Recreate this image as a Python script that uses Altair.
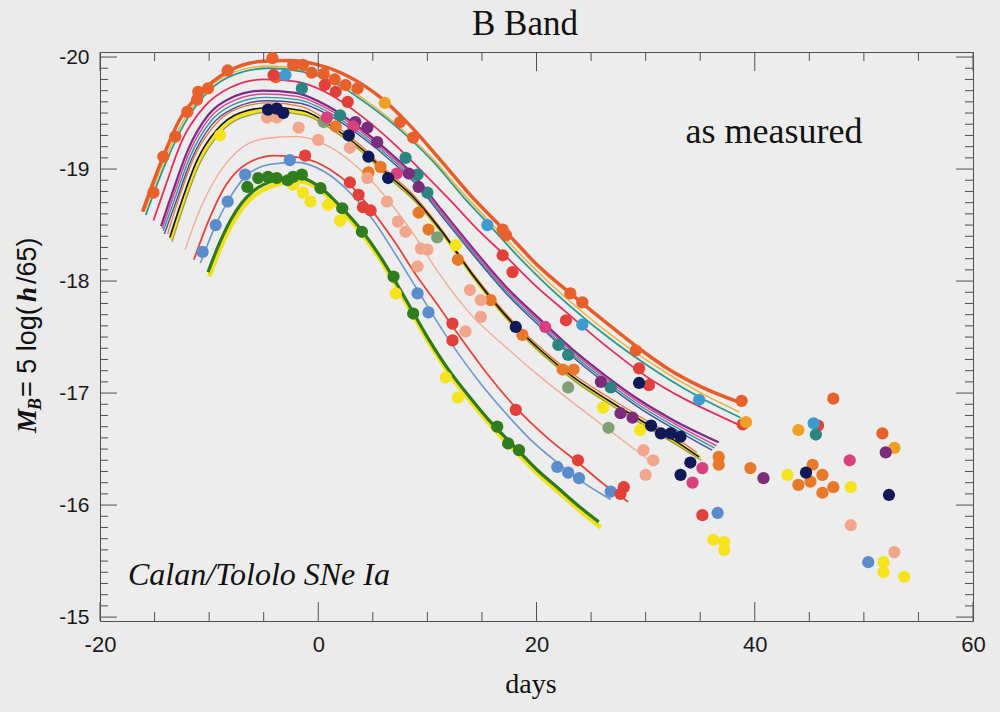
import altair as alt
import pandas as pd

# ---------------- text ----------------
title_text = "B Band"
note_text = "as measured"
sample_text = "Calan/Tololo SNe Ia"
xlabel_text = "days"
ytitle_parts = ["M", "B", "= 5 log(", "h", "/65)"]

# ---------------- axis ticks ----------------
x_major = [-20, 0, 20, 40, 60]
x_minor = [-15, -10, -5, 5, 10, 15, 25, 30, 35, 45, 50, 55]
y_major = [-20, -19, -18, -17, -16, -15]
y_minor = [round(-20 + 0.1 * i, 1) for i in range(51) if i % 10 != 0]

# ---------------- template curves (day, M_B) ----------------
orange_days = [-16.1, -14.5, -12.7, -10.8, -8.1, -5.3, -2.6, 0.0, 2.9, 5.7, 8.4, 11.2, 14.2, 17.2, 20.0, 23.6, 26.5, 29.1, 32.0, 35.0, 38.8]
orange_mags = [-18.62, -19.04, -19.44, -19.68, -19.88, -19.96, -19.97, -19.93, -19.82, -19.64, -19.39, -19.08, -18.74, -18.44, -18.15, -17.85, -17.62, -17.42, -17.22, -17.06, -16.91]

teal_days = [-15.8, -14.0, -12.0, -10.0, -7.5, -4.5, -1.5, 1.5, 4.5, 7.5, 10.5, 13.3, 15.5, 18.5, 21.0, 23.4, 26.0, 28.9, 32.0, 35.0, 38.7]
teal_mags = [-18.59, -19.05, -19.45, -19.70, -19.85, -19.90, -19.87, -19.77, -19.58, -19.35, -19.07, -18.75, -18.52, -18.20, -17.96, -17.75, -17.54, -17.33, -17.13, -16.96, -16.78]

gold_days = [-15.9, -14.1, -12.1, -10.1, -7.6, -4.6, -1.6, 1.4, 4.4, 7.4, 10.4, 13.2, 15.4, 18.4, 20.9, 23.3, 25.9, 28.8, 31.9, 34.9, 38.6]
gold_mags = [-18.62, -19.08, -19.47, -19.72, -19.87, -19.92, -19.89, -19.80, -19.61, -19.38, -19.10, -18.79, -18.56, -18.25, -18.01, -17.80, -17.59, -17.38, -17.18, -17.01, -16.83]

pink_days = [-15.1, -14.0, -12.5, -10.5, -8.0, -5.0, -2.0, 1.0, 4.0, 7.0, 9.5, 12.1, 14.5, 17.3, 20.0, 22.5, 26.5, 30.2, 33.5, 36.9, 38.9]
pink_mags = [-18.54, -18.85, -19.25, -19.55, -19.73, -19.80, -19.78, -19.67, -19.47, -19.22, -18.98, -18.72, -18.47, -18.21, -17.95, -17.74, -17.41, -17.14, -16.95, -16.79, -16.70]

magenta_days = [-14.3, -13.3, -11.8, -10.0, -8.0, -5.0, -2.0, 1.0, 4.0, 6.5, 9.0, 11.2, 14.2, 17.3, 20.4, 23.4, 26.5, 29.5, 32.6, 36.5]
magenta_mags = [-18.47, -18.75, -19.15, -19.45, -19.60, -19.67, -19.65, -19.53, -19.33, -19.13, -18.90, -18.63, -18.27, -17.92, -17.63, -17.36, -17.12, -16.91, -16.73, -16.53]

purple_days = [-14.4, -13.4, -11.9, -10.1, -8.1, -5.1, -2.1, 0.9, 3.9, 6.4, 8.9, 11.1, 14.1, 17.2, 20.3, 23.3, 26.4, 29.4, 32.5, 36.7]
purple_mags = [-18.49, -18.78, -19.18, -19.48, -19.63, -19.70, -19.68, -19.56, -19.36, -19.16, -18.93, -18.66, -18.30, -17.95, -17.66, -17.39, -17.15, -16.94, -16.76, -16.56]

teal2_days = [-14.2, -13.2, -11.7, -9.9, -7.9, -4.9, -1.9, 1.1, 4.1, 6.6, 9.1, 11.3, 14.3, 17.4, 20.5, 23.5, 26.6, 29.6, 32.7, 36.3]
teal2_mags = [-18.45, -18.72, -19.12, -19.42, -19.57, -19.64, -19.62, -19.50, -19.30, -19.10, -18.87, -18.60, -18.24, -17.89, -17.60, -17.33, -17.09, -16.88, -16.70, -16.51]

violet_days = [-14.1, -13.1, -11.6, -9.8, -7.8, -4.8, -1.8, 1.2, 4.2, 6.7, 9.2, 11.4, 14.4, 17.5, 20.6, 23.6, 26.7, 29.7, 32.8, 36.1]
violet_mags = [-18.42, -18.69, -19.09, -19.39, -19.54, -19.61, -19.59, -19.47, -19.27, -19.07, -18.84, -18.57, -18.21, -17.86, -17.57, -17.30, -17.06, -16.85, -16.67, -16.49]

othin_days = [-13.8, -12.9, -11.3, -9.5, -7.4, -4.6, -1.6, 0.9, 3.9, 6.1, 8.5, 11.0, 14.0, 17.1, 20.2, 23.2, 26.3, 29.3, 32.4, 34.7]
othin_mags = [-18.42, -18.70, -19.12, -19.39, -19.54, -19.59, -19.56, -19.43, -19.21, -19.00, -18.79, -18.50, -18.09, -17.72, -17.42, -17.18, -16.98, -16.80, -16.62, -16.47]

ybund_days = [-13.5, -12.6, -11.0, -9.2, -7.1, -4.3, -1.3, 1.2, 4.2, 6.4, 8.8, 11.3, 14.3, 17.4, 20.5, 23.5, 26.6, 29.6, 32.7, 35.0]
ybund_mags = [-18.37, -18.64, -19.06, -19.33, -19.48, -19.53, -19.50, -19.37, -19.15, -18.94, -18.73, -18.44, -18.03, -17.66, -17.36, -17.12, -16.92, -16.74, -16.56, -16.42]

olive_days = [-13.4, -12.5, -10.9, -9.1, -7.0, -4.2, -1.2, 1.3, 4.3, 6.5, 8.9, 11.4, 14.4, 17.5, 20.6, 23.6, 26.7, 29.7, 32.8, 35.1]
olive_mags = [-18.35, -18.62, -19.04, -19.31, -19.46, -19.51, -19.48, -19.35, -19.13, -18.92, -18.71, -18.42, -18.01, -17.64, -17.34, -17.10, -16.90, -16.72, -16.54, -16.40]

black_days = [-13.6, -12.7, -11.1, -9.3, -7.2, -4.4, -1.4, 1.1, 4.1, 6.3, 8.7, 11.2, 14.2, 17.3, 20.4, 23.4, 26.5, 29.5, 32.6, 34.9]
black_mags = [-18.39, -18.66, -19.08, -19.35, -19.50, -19.55, -19.52, -19.39, -19.17, -18.96, -18.75, -18.46, -18.05, -17.68, -17.38, -17.14, -16.94, -16.76, -16.58, -16.43]

salmon_days = [-12.2, -11.0, -9.5, -7.5, -5.0, -2.0, 1.0, 4.0, 7.0, 9.0, 11.2, 14.0, 17.3, 20.4, 23.4, 26.5, 29.5, 30.6]
salmon_mags = [-18.28, -18.60, -18.90, -19.15, -19.27, -19.29, -19.20, -18.98, -18.65, -18.38, -18.05, -17.70, -17.40, -17.14, -16.91, -16.68, -16.46, -16.38]

red_days = [-11.4, -10.0, -8.5, -6.5, -4.0, -1.5, 1.0, 3.0, 5.0, 7.0, 9.0, 11.0, 13.0, 15.5, 18.1, 21.0, 23.8, 26.0, 28.4]
red_mags = [-18.19, -18.55, -18.85, -19.05, -19.12, -19.10, -19.00, -18.85, -18.62, -18.35, -18.05, -17.78, -17.50, -17.17, -16.87, -16.60, -16.38, -16.20, -16.03]

blue_days = [-10.8, -9.4, -8.3, -6.7, -4.5, -2.0, 0.5, 3.0, 5.0, 7.0, 9.1, 11.0, 13.0, 15.0, 17.0, 19.5, 21.9, 24.0, 26.8]
blue_mags = [-18.16, -18.50, -18.71, -18.93, -19.04, -19.06, -18.98, -18.78, -18.55, -18.25, -17.92, -17.62, -17.33, -17.07, -16.84, -16.58, -16.38, -16.22, -16.05]

yellow_days = [-10.0, -8.9, -7.9, -6.9, -5.9, -3.9, -1.9, 0.1, 2.1, 4.1, 6.1, 8.1, 10.1, 12.1, 14.1, 16.1, 18.1, 20.1, 22.1, 24.1, 25.9]
yellow_mags = [-18.04, -18.31, -18.51, -18.66, -18.76, -18.86, -18.89, -18.82, -18.63, -18.41, -18.13, -17.80, -17.46, -17.16, -16.91, -16.68, -16.48, -16.28, -16.11, -15.94, -15.80]

green_days = [-10.1, -9.0, -8.0, -7.0, -6.0, -4.0, -2.0, 0.0, 2.0, 4.0, 6.0, 8.0, 10.0, 12.0, 14.0, 16.0, 18.0, 20.0, 22.0, 24.0, 25.7]
green_mags = [-18.08, -18.35, -18.55, -18.70, -18.80, -18.90, -18.93, -18.85, -18.67, -18.45, -18.17, -17.84, -17.50, -17.20, -16.95, -16.72, -16.52, -16.32, -16.15, -15.98, -15.85]

# ---------------- measured points (day, M_B) ----------------
p_orange_d = [-15.1, -14.2, -13.1, -12.0, -11.1, -11.0, -10.1, -8.3, -4.2, -3.9, -2.3, -1.4, -0.6, 0.5, 1.5, 2.5, 3.6, 7.5, 8.7, 16.9, 17.2, 23.1, 24.2, 29.1, 38.8, 47.2, 51.7]
p_orange_m = [-18.79, -19.11, -19.29, -19.51, -19.62, -19.69, -19.72, -19.88, -19.99, -19.82, -19.93, -19.93, -19.86, -19.85, -19.80, -19.75, -19.72, -19.42, -19.28, -18.46, -18.41, -17.89, -17.81, -17.38, -16.93, -16.95, -16.64]
p_red_d = [-4.1, 0.6, 1.6, 2.7, 16.9, 17.8, 22.7, 29.4, 30.3, 38.9, -1.2, 2.9, 3.7, 4.1, 4.8, 12.3, 12.3, 18.1, 23.8, 27.7, 28.0, 35.2, 45.8]
p_red_m = [-19.84, -19.75, -19.69, -19.60, -18.23, -18.08, -17.65, -17.22, -17.07, -16.72, -19.12, -18.88, -18.77, -18.66, -18.63, -17.62, -17.47, -16.85, -16.40, -16.10, -16.16, -15.91, -16.71]
p_navy_d = [-4.6, -3.8, -3.2, 2.8, 4.6, 6.4, 18.1, 29.4, 30.5, 31.4, 32.3, 33.2, 34.1, 33.2, 44.7, 52.3]
p_navy_m = [-19.53, -19.54, -19.50, -19.30, -19.11, -18.92, -17.59, -17.09, -16.71, -16.64, -16.64, -16.61, -16.38, -16.27, -16.29, -16.09]
p_magenta_d = [0.8, 3.2, 7.2, 20.8, 35.2, 34.3, 48.7]
p_magenta_m = [-19.46, -19.38, -18.96, -17.59, -16.33, -16.20, -16.40]
p_purple_d = [3.4, 4.5, 5.4, 8.3, 9.2, 25.9, 27.7, 28.8, 40.8, 52.0]
p_purple_m = [-19.42, -19.37, -19.24, -18.96, -18.84, -17.10, -16.82, -16.78, -16.24, -16.47]
p_teal_d = [-1.5, 2.0, 8.0, 9.1, 10.0, 22.0, 22.9, 26.8, 45.6]
p_teal_m = [-19.72, -19.48, -19.10, -18.95, -18.79, -17.43, -17.34, -17.05, -16.63]
p_sky_d = [-3.0, 15.5, 24.2, 34.9, 45.4]
p_sky_m = [-19.84, -18.50, -17.61, -16.94, -16.73]
p_amber_d = [6.1, 39.2, 44.0, 52.8]
p_amber_m = [-19.59, -16.74, -16.67, -16.51]
p_yellow_d = [-9.0, -2.3, -1.4, -0.7, 0.9, 2.0, 7.1, 11.7, 12.8, 12.6, 26.1, 29.5, 43.0, 48.8, 36.2, 37.2, 37.2, 51.8, 51.8, 53.7]
p_yellow_m = [-19.30, -18.86, -18.79, -18.71, -18.68, -18.54, -17.89, -17.14, -16.96, -18.32, -16.87, -16.67, -16.27, -16.16, -15.69, -15.67, -15.60, -15.49, -15.40, -15.36]
p_green_d = [-6.5, -5.5, -4.6, -3.8, -2.8, -2.3, -1.5, 0.2, 2.2, 4.0, 6.9, 8.7, 16.4, 17.4, 18.4]
p_green_m = [-18.84, -18.92, -18.93, -18.92, -18.90, -18.93, -18.95, -18.83, -18.65, -18.44, -18.04, -17.71, -16.70, -16.55, -16.49]
p_salmon_d = [-4.7, -3.8, -1.8, 0.0, 2.9, 4.5, 6.3, 7.3, 8.0, 9.4, 10.0, 9.1, 13.5, 13.9, 14.9, 14.9, 29.8, 30.7, 30.0, 48.8, 52.8]
p_salmon_m = [-19.46, -19.46, -19.37, -19.26, -19.19, -18.92, -18.71, -18.53, -18.44, -18.29, -18.28, -18.13, -17.55, -17.92, -17.83, -17.68, -16.49, -16.40, -16.27, -15.82, -15.58]
p_sage_d = [0.5, 10.9, 22.9, 26.6]
p_sage_m = [-19.42, -18.39, -17.05, -16.69]
p_orange2_d = [1.6, 4.6, 5.7, 9.2, 10.1, 12.8, 15.8, 18.7, 22.4, 23.4, 36.7, 36.7, 39.6, 45.3, 46.2, 47.2, 46.2, 45.1, 44.0]
p_orange2_m = [-19.38, -18.97, -19.02, -18.61, -18.46, -18.19, -17.83, -17.52, -17.21, -17.21, -16.43, -16.36, -16.33, -16.36, -16.27, -16.16, -16.11, -16.21, -16.18]
p_blue_d = [-10.6, -9.4, -8.3, -6.7, -2.6, 9.1, 10.1, 21.9, 22.9, 23.9, 26.8, 36.6, 50.4]
p_blue_m = [-18.26, -18.50, -18.71, -18.95, -19.08, -17.89, -17.72, -16.34, -16.29, -16.24, -16.12, -15.93, -15.49]

# ---------------- styles ----------------
line_styles = [  # name, days, mags, colour, width (drawing order)
    ("salmon", salmon_days, salmon_mags, "#f3ad95", 1.4),
    ("blue", blue_days, blue_mags, "#6a96d2", 1.6),
    ("red", red_days, red_mags, "#e4443a", 1.8),
    ("yellow", yellow_days, yellow_mags, "#f2e21e", 4.5),
    ("green", green_days, green_mags, "#2f7a1c", 3.2),
    ("ybund", ybund_days, ybund_mags, "#f2e21e", 4.0),
    ("olive", olive_days, olive_mags, "#9a9a4a", 1.3),
    ("othin", othin_days, othin_mags, "#e87a30", 1.3),
    ("black", black_days, black_mags, "#111111", 1.6),
    ("violet", violet_days, violet_mags, "#4a4aa0", 1.4),
    ("teal2", teal2_days, teal2_mags, "#2a9a9a", 1.4),
    ("purple", purple_days, purple_mags, "#7d2a88", 2.2),
    ("magenta", magenta_days, magenta_mags, "#e0428f", 1.5),
    ("pink", pink_days, pink_mags, "#e2305e", 1.8),
    ("teal", teal_days, teal_mags, "#2a9a8c", 1.8),
    ("gold", gold_days, gold_mags, "#f0b030", 1.4),
    ("orange", orange_days, orange_mags, "#e85c2a", 3.5),
]

point_styles = [
    ("orange", p_orange_d, p_orange_m, "#e8602c"),
    ("orange2", p_orange2_d, p_orange2_m, "#e8782a"),
    ("salmon", p_salmon_d, p_salmon_m, "#f2a68c"),
    ("sage", p_sage_d, p_sage_m, "#809f74"),
    ("yellow", p_yellow_d, p_yellow_m, "#f5e31e"),
    ("green", p_green_d, p_green_m, "#2f7d1e"),
    ("blue", p_blue_d, p_blue_m, "#5b8dcc"),
    ("red", p_red_d, p_red_m, "#e2413a"),
    ("amber", p_amber_d, p_amber_m, "#f0a024"),
    ("sky", p_sky_d, p_sky_m, "#3d9bd0"),
    ("teal", p_teal_d, p_teal_m, "#2b8581"),
    ("purple", p_purple_d, p_purple_m, "#7b2d7b"),
    ("magenta", p_magenta_d, p_magenta_m, "#d9407e"),
    ("navy", p_navy_d, p_navy_m, "#101858"),
]

W, H = 873, 569
xs = alt.Scale(domain=[-20, 60], nice=False, zero=False)
ys = alt.Scale(domain=[-20.045, -14.965], reverse=True, nice=False, zero=False)
xaxis = alt.Axis(values=x_major, title=None, labelExpr="'' + datum.value", labelPadding=13,
                 labelFontSize=22, ticks=False, domain=False, grid=False, labelFlush=False)
yaxis = alt.Axis(values=y_major, title=None, labelExpr="'' + datum.value", labelPadding=11,
                 labelFontSize=21, ticks=False, domain=False, grid=False, labelFlush=False)

layers = []
for name, d, m, col, w in line_styles:
    df = pd.DataFrame({"day": d, "mag": m})
    layers.append(
        alt.Chart(df).mark_line(color=col, strokeWidth=w, interpolate="monotone").encode(
            x=alt.X("day:Q", scale=xs, axis=xaxis),
            y=alt.Y("mag:Q", scale=ys, axis=yaxis),
        )
    )

rows = []
for name, d, m, col in point_styles:
    for a, b in zip(d, m):
        rows.append({"day": a, "mag": b, "grp": name})
pts = pd.DataFrame(rows)
layers.append(
    alt.Chart(pts).mark_circle(size=150, opacity=1).encode(
        x=alt.X("day:Q", scale=xs, axis=xaxis),
        y=alt.Y("mag:Q", scale=ys, axis=yaxis),
        color=alt.Color("grp:N", scale=alt.Scale(domain=[p[0] for p in point_styles],
                                                 range=[p[3] for p in point_styles]), legend=None),
    )
)

# inward ticks on all four sides
tick_col = "#505050"
def xticks(vals, length):
    df = pd.DataFrame({"v": vals})
    bottom = alt.Chart(df).mark_rule(color=tick_col, strokeWidth=1).encode(
        x=alt.X("v:Q", scale=xs, axis=xaxis), y=alt.value(H), y2=alt.value(H - length))
    top = alt.Chart(df).mark_rule(color=tick_col, strokeWidth=1).encode(
        x=alt.X("v:Q", scale=xs, axis=xaxis), y=alt.value(0), y2=alt.value(length))
    return [bottom, top]

def yticks(vals, length):
    df = pd.DataFrame({"v": vals})
    left = alt.Chart(df).mark_rule(color=tick_col, strokeWidth=1).encode(
        y=alt.Y("v:Q", scale=ys, axis=yaxis), x=alt.value(0), x2=alt.value(length))
    right = alt.Chart(df).mark_rule(color=tick_col, strokeWidth=1).encode(
        y=alt.Y("v:Q", scale=ys, axis=yaxis), x=alt.value(W), x2=alt.value(W - length))
    return [left, right]

layers += xticks(x_major, 19) + xticks(x_minor, 9) + yticks(y_major, 17) + yticks(y_minor, 8)

def label(text, x, y, size, font="Liberation Serif", style="normal", weight="normal",
          align="center", angle=0):
    kw = dict(fontSize=size, font=font, fontStyle=style, fontWeight=weight, align=align,
              baseline="alphabetic", color="#111111")
    if angle:
        kw["angle"] = angle
    return alt.Chart(pd.DataFrame({"t": [text]})).mark_text(**kw).encode(
        x=alt.value(x), y=alt.value(y), text="t:N")

layers += [
    label(title_text, 425, -17, 35),
    label(note_text, 674, 91, 36),
    label(sample_text, 28, 533, 32, style="italic", align="left"),
    label(xlabel_text, 431, 641, 28),
    label(ytitle_parts[0], -64, 381, 27, style="italic", weight="bold", align="left", angle=270),
    label(ytitle_parts[1], -59, 358, 18, style="italic", weight="bold", align="left", angle=270),
    label(ytitle_parts[2], -64, 345, 27, font="Liberation Sans", align="left", angle=270),
    label(ytitle_parts[3], -64, 250, 27, style="italic", weight="bold", align="left", angle=270),
    label(ytitle_parts[4], -64, 232, 27, font="Liberation Sans", align="left", angle=270),
]

chart = alt.layer(*layers).properties(
    width=W, height=H,
    autosize=alt.AutoSizeParams(type="none"),
    padding={"left": 100, "top": 52, "right": 27, "bottom": 91},
    background="#ebebeb",
).configure_view(
    stroke="#505050", strokeWidth=1, fill="#ededed"
).configure_axis(
    labelFont="Liberation Sans", labelColor="#1a1a1a"
)

chart.save("out.html", embed_options={"renderer": "svg", "actions": False})
